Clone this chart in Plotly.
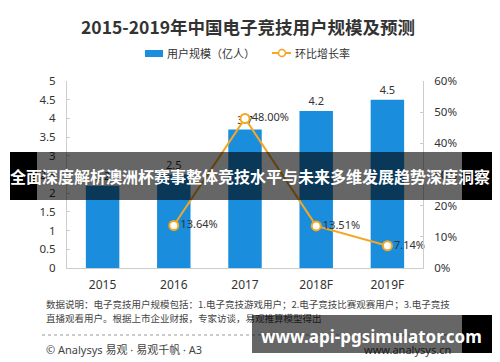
import plotly.graph_objects as go

years = ["2015", "2016", "2017", "2018F", "2019F"]
users = [2.2, 2.5, 3.7, 4.2, 4.5]
growth_years = ["2016", "2017", "2018F", "2019F"]
growth = [0.1364, 0.48, 0.1351, 0.0714]
growth_labels = ["13.64%", "48.00%", "13.51%", "7.14%"]

FONT = "Noto Sans, Noto Sans CJK SC, sans-serif"
CJK = "Noto Sans CJK SC, sans-serif"
BLUE = "#1a8ddc"
ORANGE = "#f5a623"

W, H = 500, 362
L, R, T, B = 67, 423, 81, 268


def xp(px):
    return (px - L) / (R - L)


def yp(py):
    return (B - py) / (B - T)


fig = go.Figure()
fig.add_trace(go.Bar(
    x=years, y=users, name="用户规模（亿人）",
    marker=dict(color=BLUE, line=dict(width=0)),
    width=0.47,
    text=[str(v) for v in users], textposition="outside",
    textfont=dict(size=11, color="#333", family=FONT),
    cliponaxis=False, showlegend=False,
))
fig.add_trace(go.Scatter(
    x=growth_years, y=growth, name="环比增长率", yaxis="y2",
    mode="lines+markers+text",
    line=dict(color=ORANGE, width=2),
    marker=dict(size=9, color="white", line=dict(color=ORANGE, width=2)),
    text=growth_labels, textposition="middle right",
    textfont=dict(size=11, color="#333", family=FONT),
    cliponaxis=False, showlegend=False,
))

annotations = [
    dict(text="<b>2015-2019年中国电子竞技用户规模及预测</b>", x=xp(248), y=yp(27),
         font=dict(size=17.5, color="#333", family=CJK)),
    # legend labels
    dict(text="用户规模（亿人）", x=xp(165), y=yp(53), xanchor="left",
         font=dict(size=11, color="#333", family=CJK)),
    dict(text="环比增长率", x=xp(293), y=yp(53), xanchor="left",
         font=dict(size=11, color="#333", family=CJK)),
    dict(text="数据说明：电子竞技用户规模包括：1.电子竞技游戏用户；2.电子竞技比赛观赛用户；3.电子竞技",
         x=xp(44), y=yp(304), xanchor="left", font=dict(size=9.5, color="#444", family=CJK)),
    dict(text="直播观看用户。根据上市企业财报，专家访谈，易观推算模型得出",
         x=xp(44), y=yp(318), xanchor="left", font=dict(size=9.5, color="#444", family=CJK)),
    dict(text="© Analysys 易观 · 易观千帆 · A3", x=xp(44), y=yp(349), xanchor="left",
         font=dict(size=11, color="#444", family=FONT)),
    dict(text="www.analysys.cn", x=xp(453), y=yp(349), xanchor="right",
         font=dict(size=11, color="#444", family=FONT)),
    # banner overlay
    dict(text=" ", x=xp(10), y=yp(152), xanchor="left", yanchor="top", width=27, height=48,
         bgcolor="black", borderpad=0, borderwidth=0),
    dict(text=" ", x=xp(37), y=yp(152), xanchor="left", yanchor="top", width=425, height=48,
         bgcolor="rgba(0,0,0,0.6)", borderpad=0, borderwidth=0),
    dict(text=" ", x=xp(462), y=yp(152), xanchor="left", yanchor="top", width=30, height=48,
         bgcolor="black", borderpad=0, borderwidth=0),
    dict(text="<b>全面深度解析澳洲杯赛事整体竞技水平与未来多维发展趋势深度洞察</b>",
         x=xp(250), y=yp(176), font=dict(size=16, color="white", family=CJK)),
    # bottom watermark
    dict(text=" ", x=xp(252), y=yp(315), xanchor="left", yanchor="top", width=210, height=38,
         bgcolor="rgba(0,0,0,0.6)", borderpad=0, borderwidth=0),
    dict(text=" ", x=xp(462), y=yp(315), xanchor="left", yanchor="top", width=30, height=38,
         bgcolor="black", borderpad=0, borderwidth=0),
    dict(text="<b>www.api-pgsimulator.com</b>", x=xp(371), y=yp(336),
         font=dict(size=17, color="white", family=FONT)),
]
for a in annotations:
    a.setdefault("xref", "paper")
    a.setdefault("yref", "paper")
    a.setdefault("showarrow", False)
    a.setdefault("xanchor", "center")
    a.setdefault("yanchor", "middle")

shapes = [
    # legend symbols
    dict(type="rect", x0=xp(145), x1=xp(163), y0=yp(50), y1=yp(57),
         fillcolor=BLUE, line=dict(width=0)),
    dict(type="line", x0=xp(272), x1=xp(291), y0=yp(53), y1=yp(53),
         line=dict(color=ORANGE, width=2)),
    dict(type="circle", x0=xp(278.5), x1=xp(285.5), y0=yp(49.5), y1=yp(56.5),
         fillcolor="white", line=dict(color=ORANGE, width=1.5)),
    # dotted separator
    dict(type="line", x0=xp(42), x1=xp(455), y0=yp(335), y1=yp(335),
         line=dict(color="#999", width=1, dash="dot")),
]
for s in shapes:
    s["xref"] = "paper"
    s["yref"] = "paper"

fig.update_layout(
    width=W, height=H,
    margin=dict(l=L, r=W - R, t=T, b=H - B, autoexpand=False),
    paper_bgcolor="white", plot_bgcolor="white",
    font=dict(family=FONT, color="#333"),
    showlegend=False,
    xaxis=dict(showline=True, linecolor="#ccc", linewidth=1, ticks="",
               tickfont=dict(size=12, color="#333"), showgrid=False, ticklabelstandoff=6),
    yaxis=dict(range=[0, 5], dtick=0.5, showline=True, linecolor="#ccc", ticks="inside",
               ticklen=3, tickcolor="#ccc", showgrid=False, zeroline=False,
               tickfont=dict(size=11.5, color="#333"), ticklabelstandoff=8),
    yaxis2=dict(range=[0, 0.6], dtick=0.1, tickformat=".0%", overlaying="y", side="right",
                showline=True, linecolor="#ccc", ticks="inside", ticklen=3, tickcolor="#ccc",
                showgrid=False, zeroline=False, tickfont=dict(size=11.5, color="#333"),
                ticklabelstandoff=8),
    annotations=annotations,
    shapes=shapes,
)

fig.write_html("out.html", config={"displayModeBar": False},
               post_script="document.body.style.margin='0';document.body.style.overflow='hidden';")
